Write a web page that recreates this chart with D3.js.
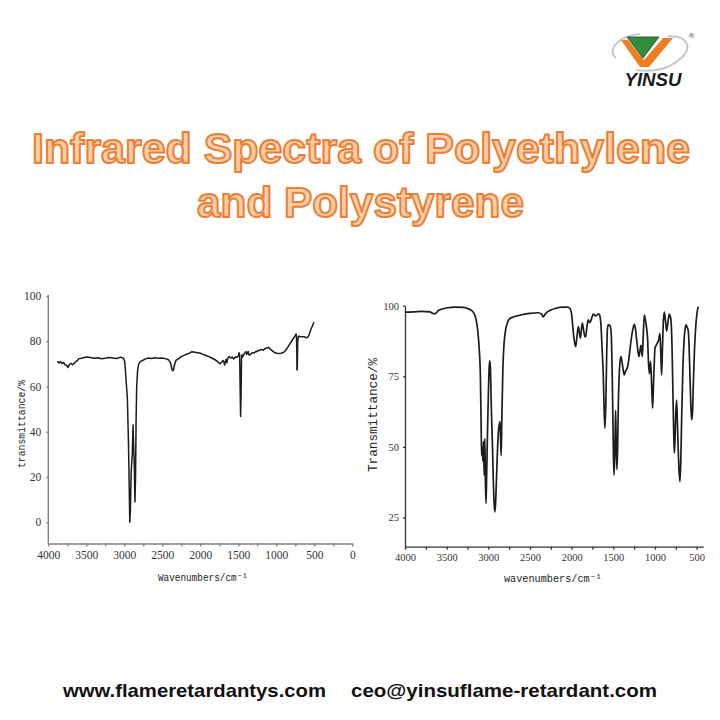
<!DOCTYPE html>
<html><head><meta charset="utf-8">
<script src="https://cdn.jsdelivr.net/npm/d3@7/dist/d3.min.js"></script>
<style>html,body{margin:0;padding:0;background:#fff;}svg{display:block;}</style>
</head><body>
<script>
// ---- data ----
const titleLines = ["Infrared Spectra of Polyethylene", "and Polystyrene"];
const footerTexts = ["www.flameretardantys.com", "ceo@yinsuflame-retardant.com"];
const logoText = "YINSU";

// Polyethylene spectrum (left)
const peWave = [3880,3860,3840,3820,3800,3780,3760,3740,3720,3700,3680,3650,3620,3600,3550,3500,3450,3400,3350,3300,3250,3200,3150,3100,3050,3010,2995,2985,2975,2960,2945,2935,2928,2920,2910,2895,2885,2878,2868,2860,2852,2845,2837,2825,2810,2790,2760,2720,2680,2640,2600,2550,2500,2450,2420,2400,2385,2370,2360,2350,2340,2320,2290,2250,2200,2150,2110,2050,2000,1950,1900,1850,1800,1780,1760,1740,1720,1700,1690,1680,1670,1660,1650,1640,1620,1600,1580,1560,1540,1520,1500,1490,1482,1476,1470,1464,1458,1452,1445,1430,1420,1410,1400,1390,1380,1370,1360,1346,1330,1310,1290,1270,1259,1240,1220,1200,1171,1150,1120,1100,1083,1060,1039,1020,995,970,940,908,880,860,842,820,800,776,760,741,735,730,728,724,718,711,700,689,660,630,600,579,557,545,535,520,505,491];
const peT  = [71.2,70.4,71.0,70.2,70.6,69.6,69.4,68.4,69.8,70.2,69.6,70.6,71.4,72.2,72.6,73.0,72.8,72.5,72.7,72.3,72.5,72.8,72.6,72.4,73.0,72.5,71.0,67.0,62.0,55.0,35.0,15.0,0.0,5.0,22.0,30.0,43.0,35.0,25.0,9.0,20.0,45.0,60.0,67.0,70.0,71.0,71.5,72.2,72.6,72.4,72.7,72.5,72.6,72.2,71.8,71.0,69.5,67.3,67.0,67.8,69.5,71.5,72.2,73.2,74.0,74.6,75.4,75.0,74.7,74.0,73.4,72.6,71.7,71.2,70.6,70.0,70.8,71.5,70.8,69.5,71.0,72.0,70.5,72.5,73.2,72.6,73.0,72.2,73.0,72.8,73.5,74.9,74.0,60.0,46.7,55.0,72.0,74.0,73.0,73.9,74.5,75.0,75.4,74.2,74.8,75.5,74.0,73.9,74.6,75.0,74.8,75.5,75.4,75.8,76.0,76.4,76.0,76.8,77.0,77.3,76.6,76.0,75.4,75.0,74.7,74.6,74.7,75.0,75.8,76.8,77.7,79.0,80.0,81.3,82.0,83.2,82.5,75.0,67.3,68.0,80.0,82.0,82.3,82.0,82.0,82.0,81.5,82.0,84.0,85.3,86.0,87.2,88.4];

// Polystyrene spectrum (right)
const psWave = [4000,3900,3800,3700,3660,3630,3600,3500,3400,3300,3250,3200,3160,3130,3110,3095,3085,3080,3072,3065,3058,3050,3042,3035,3028,3020,3010,3000,2990,2982,2975,2965,2950,2940,2930,2920,2910,2895,2880,2868,2860,2852,2846,2838,2825,2810,2795,2770,2740,2700,2600,2500,2400,2360,2340,2320,2250,2200,2100,2050,2020,2000,1985,1965,1952,1940,1920,1905,1896,1885,1872,1855,1840,1832,1815,1800,1785,1772,1755,1740,1720,1700,1685,1668,1650,1635,1620,1610,1600,1590,1580,1570,1560,1540,1525,1510,1500,1492,1485,1478,1472,1465,1456,1448,1440,1430,1420,1408,1395,1380,1368,1350,1328,1310,1290,1270,1248,1235,1220,1205,1192,1180,1168,1160,1152,1140,1128,1115,1100,1088,1078,1068,1060,1052,1040,1028,1018,1008,1000,985,968,955,940,930,920,910,900,888,875,860,845,828,815,808,795,785,775,768,760,750,740,732,722,712,700,690,680,665,650,635,628,615,600,590,580,570,560,550,540,525,510,495,480];
const psT  = [97.7,97.8,98.0,97.8,97.2,97.3,98.3,99.2,99.5,99.4,99.0,98.3,96.5,92.0,85.0,75.0,55.0,47.0,50.0,45.0,52.0,40.0,53.0,38.0,30.0,40.0,55.0,68.0,78.0,80.5,78.0,65.0,50.0,38.0,30.0,27.0,32.0,45.0,55.0,58.0,59.0,52.0,47.0,60.0,78.0,87.0,91.0,94.0,95.5,96.0,96.8,97.3,97.5,97.0,96.0,97.0,98.5,99.0,99.5,99.5,99.0,97.0,92.0,87.0,85.5,88.0,92.6,90.0,88.5,91.0,93.8,91.0,89.0,89.0,93.0,95.0,94.0,94.5,96.0,97.0,96.5,96.5,97.0,97.0,94.0,85.0,75.0,63.0,56.6,65.0,82.0,92.0,93.2,93.0,90.0,70.0,50.0,40.0,45.0,55.0,63.0,50.0,42.0,50.0,65.0,75.0,80.0,82.0,80.0,77.0,75.5,77.0,78.4,82.0,87.0,91.0,93.4,92.0,88.0,84.0,82.0,84.0,86.0,84.0,82.0,90.0,96.7,95.0,92.0,88.0,80.0,76.0,78.0,80.2,72.0,63.7,72.0,80.0,85.0,86.0,87.0,88.0,90.2,83.0,75.5,85.0,94.0,97.7,95.0,91.0,94.0,97.0,96.0,95.0,85.0,70.0,55.0,47.8,52.0,62.0,66.6,60.0,50.0,42.0,37.7,45.0,60.0,78.0,88.0,92.5,93.2,92.5,91.0,85.0,75.0,65.0,59.6,62.0,72.0,85.0,93.0,97.5,99.6];

const peXTicks = [4000,3500,3000,2500,2000,1500,1000,500,0];
const peXMinor = [3750,3250,2750,2250,1750,1250,750,250];
const peYTicks = [0,20,40,60,80,100];
const psXTicks = [4000,3500,3000,2500,2000,1500,1000,500];
const psXMinor = [3750,3250,2750,2250,1750,1250,750];
const psYTicks = [25,50,75,100];

const W = 720, H = 720;
const svg = d3.select("body").append("svg").attr("width", W).attr("height", H);
svg.append("rect").attr("width", W).attr("height", H).attr("fill", "#fff");

// ---- logo ----
const logo = svg.append("g");
logo.append("path")
  .attr("d", "M616,58 C606,48 620,36 640,34 M668,36 C690,36 694,50 676,62 C666,70 650,72 636,70")
  .attr("fill", "none").attr("stroke", "#c8c8c8").attr("stroke-width", 2);
logo.append("polygon").attr("points", "621,40 628,40 644,60 663,38 673,38 649,67 640,67").attr("fill", "#ef7d22");
logo.append("polygon").attr("points", "627,37 659,37 643,58").attr("fill", "#2f8f3c").attr("stroke", "#333").attr("stroke-width", 0.8);
logo.append("text").attr("x", 688).attr("y", 38).attr("font-size", 7).attr("font-family", "DejaVu Sans").attr("fill", "#555").text("®");
logo.append("text").attr("x", 653).attr("y", 86).attr("text-anchor", "middle")
  .attr("font-family", "Liberation Sans, Arial, sans-serif").attr("font-weight", "bold").attr("font-style", "italic")
  .attr("font-size", 19).attr("textLength", 57).attr("lengthAdjust", "spacingAndGlyphs")
  .attr("fill", "#1a1a1a").text(logoText);

// ---- title ----
const titleG = svg.append("g");
const titleSpecs = [{x: 361, y: 163, len: 658}, {x: 360.5, y: 217, len: 327}];
titleLines.forEach((t, i) => {
  titleG.append("text")
    .attr("x", titleSpecs[i].x).attr("y", titleSpecs[i].y).attr("text-anchor", "middle")
    .attr("font-family", "Liberation Sans, Arial, sans-serif").attr("font-weight", "bold")
    .attr("font-size", 43).attr("textLength", titleSpecs[i].len).attr("lengthAdjust", "spacingAndGlyphs")
    .attr("fill", "#f9cda6").attr("stroke", "#ea7f35").attr("stroke-width", 2)
    .attr("stroke-linejoin", "round")
    .text(t);
});

// ---- left chart: polyethylene ----
const L = svg.append("g");
const lx = d3.scaleLinear().domain([4000, 0]).range([48.3, 352.3]);
const ly = d3.scaleLinear().domain([-9.4, 100]).range([543.5, 296]);
const serif = "Liberation Serif, Times New Roman, serif";
const mono = "Liberation Mono, DejaVu Sans Mono, monospace";

const lxAxis = L.append("g").attr("transform", "translate(0,543.5)")
  .call(d3.axisBottom(lx).tickValues(peXTicks).tickSize(3).tickPadding(4).tickSizeOuter(0).tickFormat(d3.format("d")));
const lxMinor = L.append("g").attr("transform", "translate(0,543.5)")
  .call(d3.axisBottom(lx).tickValues(peXMinor).tickSize(3).tickFormat(""));
lxMinor.select(".domain").remove();
const lyAxis = L.append("g").attr("transform", "translate(48.3,0)")
  .call(d3.axisLeft(ly).tickValues(peYTicks).tickSize(2).tickPadding(5).tickSizeOuter(0));
[lxAxis, lxMinor, lyAxis].forEach(a => {
  a.selectAll("path,line").attr("stroke", "#808080").attr("stroke-width", 1.4);
  a.selectAll("text").attr("font-family", serif).attr("font-size", 11.5).attr("fill", "#333");
});
lyAxis.select(".domain").attr("d", "M0," + ly(100.4) + "V543.5");

L.append("path")
  .datum(peWave.map((w, i) => [w, peT[i]]))
  .attr("d", d3.line().x(d => lx(d[0])).y(d => ly(d[1])))
  .attr("fill", "none").attr("stroke", "#1c1c1c").attr("stroke-width", 1.5).attr("stroke-linejoin", "round");

L.append("text").attr("x", 203).attr("y", 581).attr("text-anchor", "middle")
  .attr("font-family", mono).attr("font-size", 11).attr("textLength", 90).attr("lengthAdjust", "spacingAndGlyphs")
  .attr("fill", "#222").text("Wavenumbers/cm⁻¹");
L.append("text").attr("transform", "translate(25,424) rotate(-90)").attr("text-anchor", "middle")
  .attr("font-family", mono).attr("font-size", 10.5).attr("textLength", 88).attr("lengthAdjust", "spacingAndGlyphs")
  .attr("fill", "#222").text("transmittance/%");

// ---- right chart: polystyrene ----
const R = svg.append("g");
const rx = d3.scaleLinear().domain([4000, 420]).range([405, 703.3]);
const ry = d3.scaleLinear().domain([14.7, 100]).range([546.7, 305.7]);

const rxAxis = R.append("g").attr("transform", "translate(0,546.7)")
  .call(d3.axisBottom(rx).tickValues(psXTicks).tickSize(3).tickPadding(4).tickSizeOuter(0).tickFormat(d3.format("d")));
const rxMinor = R.append("g").attr("transform", "translate(0,546.7)")
  .call(d3.axisBottom(rx).tickValues(psXMinor).tickSize(3).tickFormat(""));
rxMinor.select(".domain").remove();
const ryAxis = R.append("g").attr("transform", "translate(405,0)")
  .call(d3.axisLeft(ry).tickValues(psYTicks).tickSize(2).tickPadding(4).tickSizeOuter(0));
[rxAxis, rxMinor, ryAxis].forEach(a => {
  a.selectAll("path,line").attr("stroke", "#333").attr("stroke-width", 1.3);
  a.selectAll("text").attr("font-family", serif).attr("font-size", 10.5).attr("fill", "#333");
});

R.append("path")
  .datum(psWave.map((w, i) => [w, psT[i]]))
  .attr("d", d3.line().x(d => rx(d[0])).y(d => ry(d[1])).curve(d3.curveMonotoneX))
  .attr("fill", "none").attr("stroke", "#1c1c1c").attr("stroke-width", 1.7).attr("stroke-linejoin", "round");

R.append("text").attr("x", 553).attr("y", 582).attr("text-anchor", "middle")
  .attr("font-family", mono).attr("font-size", 11).attr("textLength", 98).attr("lengthAdjust", "spacingAndGlyphs")
  .attr("fill", "#222").text("wavenumbers/cm⁻¹");
R.append("text").attr("transform", "translate(377,415) rotate(-90)").attr("text-anchor", "middle")
  .attr("font-family", mono).attr("font-size", 12).attr("textLength", 114).attr("lengthAdjust", "spacingAndGlyphs")
  .attr("fill", "#222").text("Transmittance/%");

// ---- footer ----
const footSpecs = [{x: 63, len: 263}, {x: 351, len: 306}];
footerTexts.forEach((t, i) => {
  svg.append("text").attr("x", footSpecs[i].x).attr("y", 697)
    .attr("font-family", "Liberation Sans, Arial, sans-serif").attr("font-weight", "bold")
    .attr("font-size", 19).attr("textLength", footSpecs[i].len).attr("lengthAdjust", "spacingAndGlyphs")
    .attr("fill", "#111").text(t);
});
</script>
</body></html>
